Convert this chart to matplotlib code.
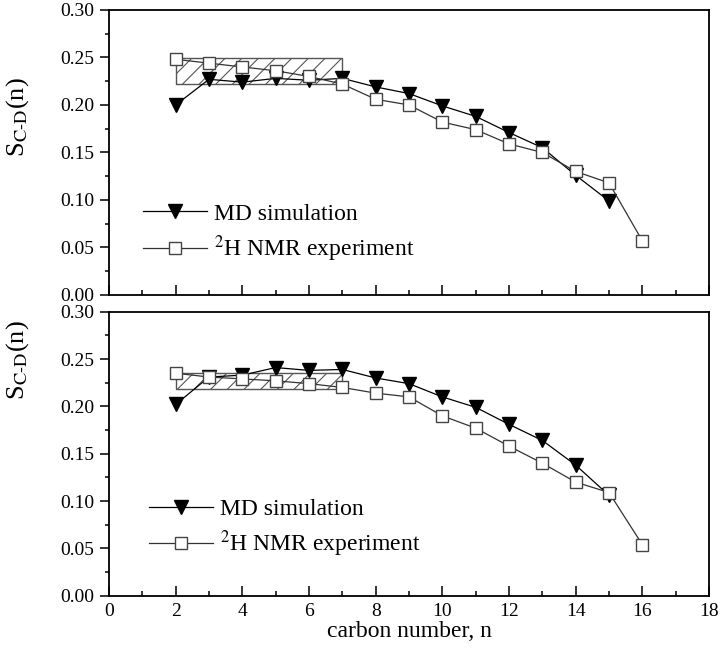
import matplotlib
matplotlib.use("Agg")
import matplotlib.pyplot as plt
import numpy as np

plt.rcParams['font.family'] = ['Liberation Serif', 'DejaVu Serif']
plt.rcParams['mathtext.fontset'] = 'stix'
plt.rcParams['hatch.linewidth'] = 0.8

# carbon positions
n_md = [2, 3, 4, 5, 6, 7, 8, 9, 10, 11, 12, 13, 14, 15]
n_nmr = [2, 3, 4, 5, 6, 7, 8, 9, 10, 11, 12, 13, 14, 15, 16]

# top panel
md_top = [0.200, 0.227, 0.224, 0.228, 0.226, 0.228, 0.219, 0.212, 0.199,
          0.188, 0.171, 0.155, 0.126, 0.099]
nmr_top = [0.248, 0.244, 0.240, 0.236, 0.230, 0.222, 0.206, 0.200, 0.182,
           0.174, 0.159, 0.150, 0.130, 0.118, 0.057]
band_top = (2, 7, 0.222, 0.249)   # x0, x1, y0, y1

# bottom panel
md_bot = [0.202, 0.231, 0.233, 0.241, 0.238, 0.239, 0.230, 0.224, 0.210,
          0.199, 0.181, 0.164, 0.138, 0.106]
nmr_bot = [0.235, 0.231, 0.229, 0.227, 0.224, 0.220, 0.214, 0.210, 0.190,
           0.177, 0.158, 0.140, 0.120, 0.109, 0.054]
band_bot = (2, 7, 0.218, 0.235)

fig = plt.figure(figsize=(7.2, 6.51), dpi=100)
ax1 = fig.add_axes([0.1514, 0.5469, 0.8333, 0.4378])
ax2 = fig.add_axes([0.1514, 0.0849, 0.8333, 0.4363])


def draw_panel(ax, md, nmr, band, leg_xy, lab_y, xlabels):
    x0, x1, y0, y1 = band
    ax.fill_between([x0, x1], y0, y1, facecolor='white', edgecolor='#555555',
                    hatch='//', linewidth=1.0, zorder=1)
    ax.plot(n_md, md, color='black', lw=0.9, marker='v', ms=10,
            mfc='black', mec='black', label='MD simulation', zorder=3)
    ax.plot(n_nmr, nmr, color='#333333', lw=0.9, marker='s', ms=8,
            mfc='white', mec='#444444', mew=1.0,
            label='$^{2}$H NMR experiment', zorder=4)
    ax.set_xlim(0, 18)
    ax.set_ylim(0, 0.30)
    ax.set_xticks(np.arange(0, 19, 2))
    ax.set_xticks(np.arange(1, 18, 2), minor=True)
    ax.set_yticks(np.arange(0, 0.301, 0.05))
    ax.set_yticks(np.arange(0.025, 0.3, 0.05), minor=True)
    ax.yaxis.set_major_formatter(plt.FormatStrFormatter('%.2f'))
    ax.tick_params(axis='x', which='major', direction='in', length=7, width=1.1,
                   labelsize=14, pad=5)
    ax.tick_params(axis='x', which='minor', direction='in', length=3.5, width=1.1)
    ax.tick_params(axis='y', which='major', direction='out', length=6.5,
                   width=1.1, labelsize=14, pad=4)
    ax.tick_params(axis='y', which='minor', direction='out', length=3.2, width=1.1)
    if not xlabels:
        ax.tick_params(axis='x', labelbottom=False)
    for s in ax.spines.values():
        s.set_linewidth(1.3)
    ax.set_ylabel(r'S$_{\mathrm{C\text{-}D}}$(n)', fontsize=19)
    ax.yaxis.set_label_coords(-0.13, lab_y)
    ax.legend(loc='lower left', bbox_to_anchor=leg_xy, frameon=False,
              fontsize=17, handlelength=2.7, handletextpad=0.3,
              labelspacing=0.35, borderpad=0, borderaxespad=0, numpoints=1)


draw_panel(ax1, md_top, nmr_top, band_top, (0.057, 0.11), 0.623, False)
draw_panel(ax2, md_bot, nmr_bot, band_bot, (0.067, 0.13), 0.83, True)
ax2.set_xlabel('carbon number, n', fontsize=17, labelpad=1)

fig.savefig('out.png', dpi=100)
